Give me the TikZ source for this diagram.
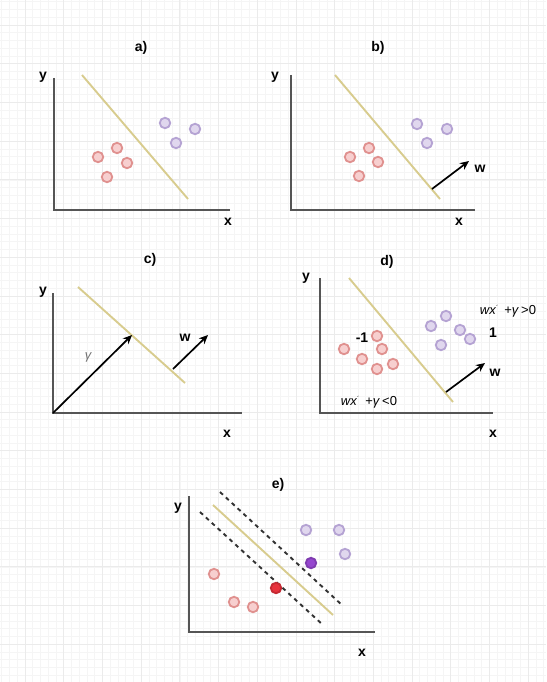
\documentclass[tikz,border=0pt]{standalone}
\usepackage{fontspec}
\setmainfont{Liberation Sans}
\usetikzlibrary{arrows.meta}
\definecolor{axisgray}{HTML}{555555}
\definecolor{sepline}{HTML}{D8CC8E}
\definecolor{negline}{HTML}{E0918F}
\definecolor{negfill}{HTML}{F7CFCF}
\definecolor{posline}{HTML}{B5A3D3}
\definecolor{posfill}{HTML}{E0D7EE}
\definecolor{negsolid}{HTML}{E8323C}
\definecolor{possolid}{HTML}{9546CF}
\begin{document}
\begin{tikzpicture}[
    x=1pt,
    y=-1pt,
    font=\fontsize{12}{14}\selectfont,
    axis/.style={draw=axisgray, line width=1.9pt},
    sep/.style={draw=sepline, line width=1.9pt},
    margin/.style={draw=black!80, line width=1.9pt, dash pattern=on 4pt off 4pt},
    vec/.style={-{Stealth[length=9pt,width=8pt]}, line width=1.7pt},
    negdot/.style={circle, draw=negline, fill=negfill, line width=1.8pt, minimum size=10.5pt, inner sep=0pt},
    posdot/.style={circle, draw=posline, fill=posfill, line width=1.8pt, minimum size=10.5pt, inner sep=0pt},
    lbl/.style={font=\fontsize{14}{16}\selectfont\bfseries},
    expr/.style={font=\fontsize{13}{15}\selectfont, inner sep=0pt}
]
\useasboundingbox (0,0) rectangle (546,682);
\fill[white] (0,0) rectangle (546,682);
% background grid
\foreach \i in {0,...,70} {
    \draw[black!4, line width=0.6pt] (1.78+7.74*\i,0) -- (1.78+7.74*\i,682);
}
\foreach \i in {0,...,88} {
    \draw[black!4, line width=0.6pt] (0,1.78+7.74*\i) -- (546,1.78+7.74*\i);
}
\foreach \i in {0,...,13} {
    \draw[black!8, line width=0.8pt] (25+38.7*\i,0) -- (25+38.7*\i,682);
}
\foreach \i in {0,...,16} {
    \draw[black!8, line width=0.8pt] (0,25+38.7*\i) -- (546,25+38.7*\i);
}

% a)
\node[lbl] (a-title) at (141,48) {a)};
\draw[axis] (54,78) -- (54,210) -- (230,210);
\node[lbl] (a-y) at (43,77) {y};
\node[lbl] (a-x) at (228,222) {x};
\draw[sep] (82,75) -- (188,199);
\foreach \p [count=\k] in {(98,157),(117,148),(127,163),(107,177)} {
    \node[negdot] (a-n\k) at \p {};
}
\foreach \p [count=\k] in {(165,123),(195,129),(176,143)} {
    \node[posdot] (a-p\k) at \p {};
}

% b)
\node[lbl] (b-title) at (378,48) {b)};
\draw[axis] (291,75) -- (291,210) -- (475,210);
\node[lbl] (b-y) at (275,77) {y};
\node[lbl] (b-x) at (459,222) {x};
\draw[sep] (335,75) -- (440,199);
\foreach \p [count=\k] in {(350,157),(369,148),(378,162),(359,176)} {
    \node[negdot] (b-n\k) at \p {};
}
\foreach \p [count=\k] in {(417,124),(447,129),(427,143)} {
    \node[posdot] (b-p\k) at \p {};
}
\coordinate (b-w0) at (432,189);
\coordinate (b-w1) at (469,161);
\draw[vec] (b-w0) -- (b-w1);
\node[lbl] (b-w) at (480,169) {w};

% c)
\node[lbl] (c-title) at (150,260) {c)};
\draw[axis] (53,293) -- (53,413) -- (242,413);
\node[lbl] (c-y) at (43,292) {y};
\node[lbl] (c-x) at (227,434) {x};
\draw[sep] (78,287) -- (185,383);
\coordinate (c-o) at (53,413);
\coordinate (c-g) at (132,335);
\draw[vec] (c-o) -- (c-g);
\node[text=black!55, font=\fontsize{13}{15}\selectfont\itshape] (c-gamma) at (88,357) {γ};
\coordinate (c-w0) at (173,369);
\coordinate (c-w1) at (208,335);
\draw[vec] (c-w0) -- (c-w1);
\node[lbl] (c-w) at (185,338) {w};

% d)
\node[lbl] (d-title) at (387,262) {d)};
\draw[axis] (320,278) -- (320,413) -- (493,413);
\node[lbl] (d-y) at (306,278) {y};
\node[lbl] (d-x) at (493,434) {x};
\draw[sep] (349,278) -- (453,402);
\foreach \p [count=\k] in {(377,336),(344,349),(382,349),(362,359),(393,364),(377,369)} {
    \node[negdot] (d-n\k) at \p {};
}
\foreach \p [count=\k] in {(446,316),(431,326),(460,330),(470,339),(441,345)} {
    \node[posdot] (d-p\k) at \p {};
}
\node[lbl] (d-neg) at (362,338) {-1};
\node[lbl] (d-pos) at (493,333) {1};
\node[expr] (d-gt) at (508,311) {\textit{wx}\raisebox{0.5ex}{\scriptsize´}\ \,+\textit{γ}\,>0};
\node[expr] (d-lt) at (369,402) {\textit{wx}\raisebox{0.5ex}{\scriptsize´}\ \,+\textit{γ}\,<0};
\coordinate (d-w0) at (446,392);
\coordinate (d-w1) at (485,363);
\draw[vec] (d-w0) -- (d-w1);
\node[lbl] (d-w) at (495,373) {w};

% e)
\node[lbl] (e-title) at (278,485) {e)};
\draw[axis] (189,496) -- (189,632) -- (375,632);
\node[lbl] (e-y) at (178,508) {y};
\node[lbl] (e-x) at (362,653) {x};
\draw[sep] (213,505) -- (333,615);
\draw[margin] (220,492) -- (343,606);
\draw[margin] (200,512) -- (323,625);
\foreach \p [count=\k] in {(306,530),(339,530),(345,554)} {
    \node[posdot] (e-p\k) at \p {};
}
\foreach \p [count=\k] in {(214,574),(234,602),(253,607)} {
    \node[negdot] (e-n\k) at \p {};
}
\node[posdot, draw=possolid!85!black, fill=possolid] (e-sp) at (311,563) {};
\node[negdot, draw=negsolid!85!black, fill=negsolid] (e-sn) at (276,588) {};
\end{tikzpicture}
\end{document}
